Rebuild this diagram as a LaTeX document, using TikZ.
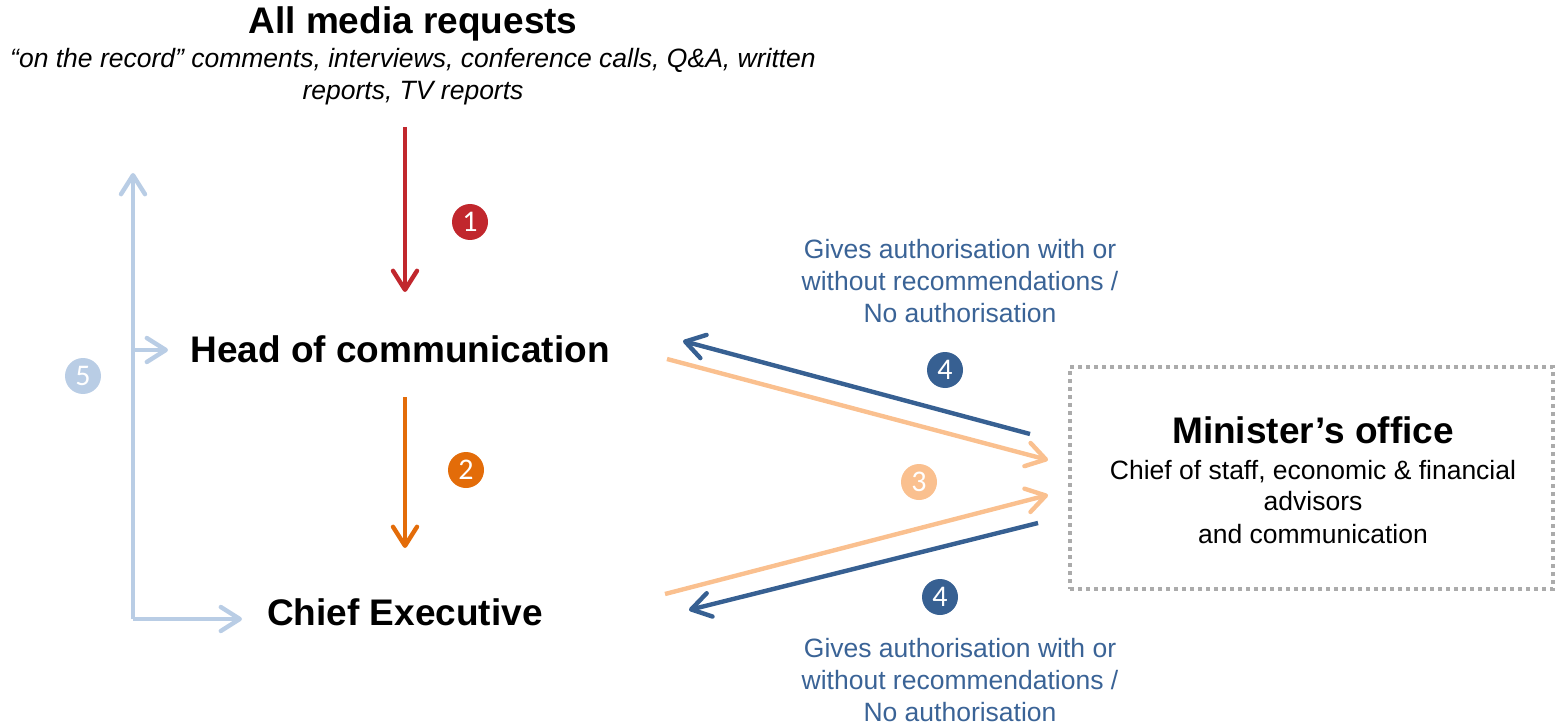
\documentclass[tikz,border=0pt]{standalone}
\usepackage{fontspec}
\setmainfont{Liberation Sans}
\newfontfamily\numfont{Carlito}
\usetikzlibrary{arrows.meta}
\definecolor{cred}{HTML}{C1272D}
\definecolor{corange}{HTML}{E36C09}
\definecolor{cpeach}{HTML}{FAC08F}
\definecolor{cdblue}{HTML}{376092}
\definecolor{clblue}{HTML}{B9CDE5}
\definecolor{ctext}{HTML}{3A6396}
\definecolor{cgray}{HTML}{ABABAB}
\tikzset{
  bigtext/.style={font=\fontsize{18.5}{22}\selectfont\bfseries, inner sep=0pt},
  subtext/.style={font=\fontsize{13.25}{16}\selectfont\itshape, align=center, inner sep=0pt},
  bluetext/.style={font=\fontsize{13.25}{16}\selectfont, text=ctext, align=center, inner sep=0pt},
  bodytext/.style={font=\fontsize{13.25}{15.5}\selectfont, align=center, inner sep=0pt},
  numcircle/.style={circle, fill=#1, text=white, minimum size=18pt, inner sep=0pt,
     font=\numfont\fontsize{15}{15}\selectfont},
  conn/.style={line width=2.2pt, color=#1,
     -{Straight Barb[length=9.5pt,width=12pt,round]}},
  mbox/.style={draw=cgray, line width=1.6pt, dash pattern=on 2pt off 2pt,
     minimum width=241.5pt, minimum height=111pt, inner sep=0pt}
}
\begin{document}
\begin{tikzpicture}[x=0.5pt,y=-0.5pt]
\useasboundingbox (0,0) rectangle (1557,727);
% texts (base anchor = baseline of the last line)
\node[bigtext, anchor=base] (title) at (413,34) {All media requests};
\node[subtext, anchor=base] (sub) at (413,100) {“on the record” comments, interviews, conference calls, Q\&A, written\\reports, TV reports};
\node[bigtext, anchor=base] (head) at (400,362) {Head of communication};
\node[bigtext, anchor=base] (chief) at (405,625) {Chief Executive};
\node[mbox] (minister) at (1311.5,478) {};
\node[bigtext, anchor=base] (mtitle) at (1313,443) {Minister’s office};
\node[bodytext, anchor=base] (mbody) at (1313,543) {Chief of staff, economic \& financial\\advisors\\[1pt]and communication};
\node[bluetext, anchor=base] (lab1) at (960,322) {Gives authorisation with or\\without recommendations /\\No authorisation};
\node[bluetext, anchor=base] (lab2) at (960,721) {Gives authorisation with or\\without recommendations /\\No authorisation};
% numbered circles
\node[numcircle=cred] (n1) at (470,222) {1};
\node[numcircle=corange] (n2) at (466,470) {2};
\node[numcircle=cpeach] (n3) at (919,482) {3};
\node[numcircle=cdblue] (n4a) at (945,370) {4};
\node[numcircle=cdblue] (n4b) at (940,597) {4};
\node[numcircle=clblue] (n5) at (83,376) {5};
% connector end points
\coordinate (r1) at (405,127);
\coordinate (r2) at (405,292);
\coordinate (o1) at (405,397);
\coordinate (o2) at (405,548);
\coordinate (ua1) at (1030,434);
\coordinate (ua2) at (683,341);
\coordinate (up1) at (667,359);
\coordinate (up2) at (1048,460);
\coordinate (lp1) at (665,594);
\coordinate (lp2) at (1048,495);
\coordinate (lb1) at (1038,523);
\coordinate (lb2) at (689,610);
\coordinate (vb) at (133,619);
\coordinate (vt) at (133,173);
\coordinate (vm) at (133,350);
\coordinate (hm) at (168,350);
\coordinate (hb) at (242,619);
% arrows
\draw[conn=cred] (r1) -- (r2);
\draw[conn=corange] (o1) -- (o2);
\draw[conn=cpeach] (up1) -- (up2);
\draw[conn=cpeach] (lp1) -- (lp2);
\draw[conn=cdblue] (ua1) -- (ua2);
\draw[conn=cdblue] (lb1) -- (lb2);
\draw[conn=clblue] (vb) -- (vt);
\draw[conn=clblue] (vm) -- (hm);
\draw[conn=clblue] (vb) -- (hb);
\end{tikzpicture}
\end{document}
